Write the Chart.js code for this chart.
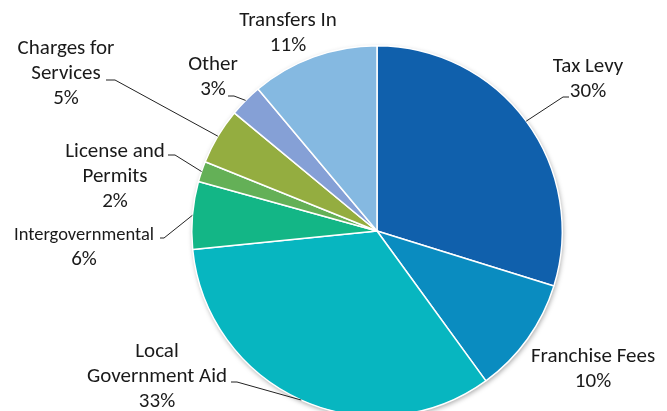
<!DOCTYPE html>
<html lang="en">
<head>
<meta charset="UTF-8">
<title>Revenue Sources</title>
<script src="https://cdn.jsdelivr.net/npm/chart.js"></script>
<style>
  html, body { margin: 0; padding: 0; background: #fff; overflow: hidden; }
  #wrap { width: 667px; height: 470px; }
</style>
</head>
<body>
<div id="wrap"><canvas id="revChart" width="667" height="470"></canvas></div>
<script>
// slices, clockwise from 12 o'clock
const categories = ['Tax Levy', 'Franchise Fees', 'Local Government Aid', 'Intergovernmental',
                    'License and Permits', 'Charges for Services', 'Other', 'Transfers In'];
const shares = [29.8, 10.2, 33.4, 5.9, 1.8, 4.9, 2.9, 11.1];
const sliceColors = ['#1060ac', '#0a8cc0', '#07b6c0', '#13b686', '#64b057', '#94ad40', '#85a0d6', '#85b9e1'];
// how each category name is broken on the chart
const labelLines = [['Tax Levy'], ['Franchise Fees'], ['Local', 'Government Aid'], ['Intergovernmental'],
                    ['License and', 'Permits'], ['Charges for', 'Services'], ['Other'], ['Transfers In']];

// label placement: text centre x, first line y, font size, leader elbow / end (null = no leader)
const labelLayout = [
  { x: 588, y: 67, size: 21, elbow: [563, 97], end: [569, 97] },
  { x: 593, y: 357, size: 21, elbow: null },
  { x: 157, y: 352, size: 21, elbow: [237, 382], end: [231, 382] },
  { x: 84, y: 235, size: 18.5, elbow: [164, 238], end: [160, 238] },
  { x: 115, y: 152, size: 21, elbow: [175, 155], end: [168, 155] },
  { x: 66, y: 49, size: 21, elbow: [115, 80], end: [106, 80] },
  { x: 213, y: 65, size: 21, elbow: [234, 96], end: [228, 96] },
  { x: 288, y: 21, size: 21, elbow: null }
];
const lineGap = 25;
const pctSize = 21;
const fontFamily = "Carlito, 'Open Sans', sans-serif";

// soft shadow under the whole pie
const pieShadow = {
  id: 'pieShadow',
  beforeDatasetsDraw(chart) {
    const arc = chart.getDatasetMeta(0).data[0];
    if (!arc) return;
    const ctx = chart.ctx;
    ctx.save();
    ctx.shadowColor = 'rgba(0,0,0,0.35)';
    ctx.shadowBlur = 5;
    ctx.shadowOffsetX = 1;
    ctx.shadowOffsetY = 2;
    ctx.fillStyle = '#fff';
    ctx.beginPath();
    ctx.arc(arc.x, arc.y, arc.outerRadius, 0, Math.PI * 2);
    ctx.fill();
    ctx.restore();
  }
};

const outsideLabels = {
  id: 'outsideLabels',
  afterDatasetsDraw(chart) {
    const ctx = chart.ctx;
    const meta = chart.getDatasetMeta(0);
    ctx.save();
    meta.data.forEach((arc, i) => {
      const lay = labelLayout[i];
      const lines = labelLines[i].concat([Math.round(shares[i]) + '%']);
      ctx.fillStyle = '#1a1a1a';
      ctx.textAlign = 'center';
      ctx.textBaseline = 'middle';
      lines.forEach((t, k) => {
        ctx.font = (k === lines.length - 1 ? pctSize : lay.size) + 'px ' + fontFamily;
        ctx.fillText(t, lay.x, lay.y + k * lineGap);
      });
      if (lay.elbow) {
        const mid = (arc.startAngle + arc.endAngle) / 2;
        const sx = arc.x + Math.cos(mid) * arc.outerRadius;
        const sy = arc.y + Math.sin(mid) * arc.outerRadius;
        ctx.strokeStyle = '#222';
        ctx.lineWidth = 1;
        ctx.beginPath();
        ctx.moveTo(sx, sy);
        ctx.lineTo(lay.elbow[0], lay.elbow[1]);
        ctx.lineTo(lay.end[0], lay.end[1]);
        ctx.stroke();
      }
    });
    ctx.restore();
  }
};

new Chart(document.getElementById('revChart').getContext('2d'), {
  type: 'pie',
  data: {
    labels: categories,
    datasets: [{
      data: shares,
      backgroundColor: sliceColors,
      borderColor: '#ffffff',
      borderWidth: 1.5
    }]
  },
  options: {
    responsive: false,
    animation: false,
    layout: { padding: { left: 191, right: 104, top: 45, bottom: 53 } },
    plugins: {
      legend: { display: false },
      tooltip: { enabled: false }
    }
  },
  plugins: [pieShadow, outsideLabels]
});
</script>
</body>
</html>
